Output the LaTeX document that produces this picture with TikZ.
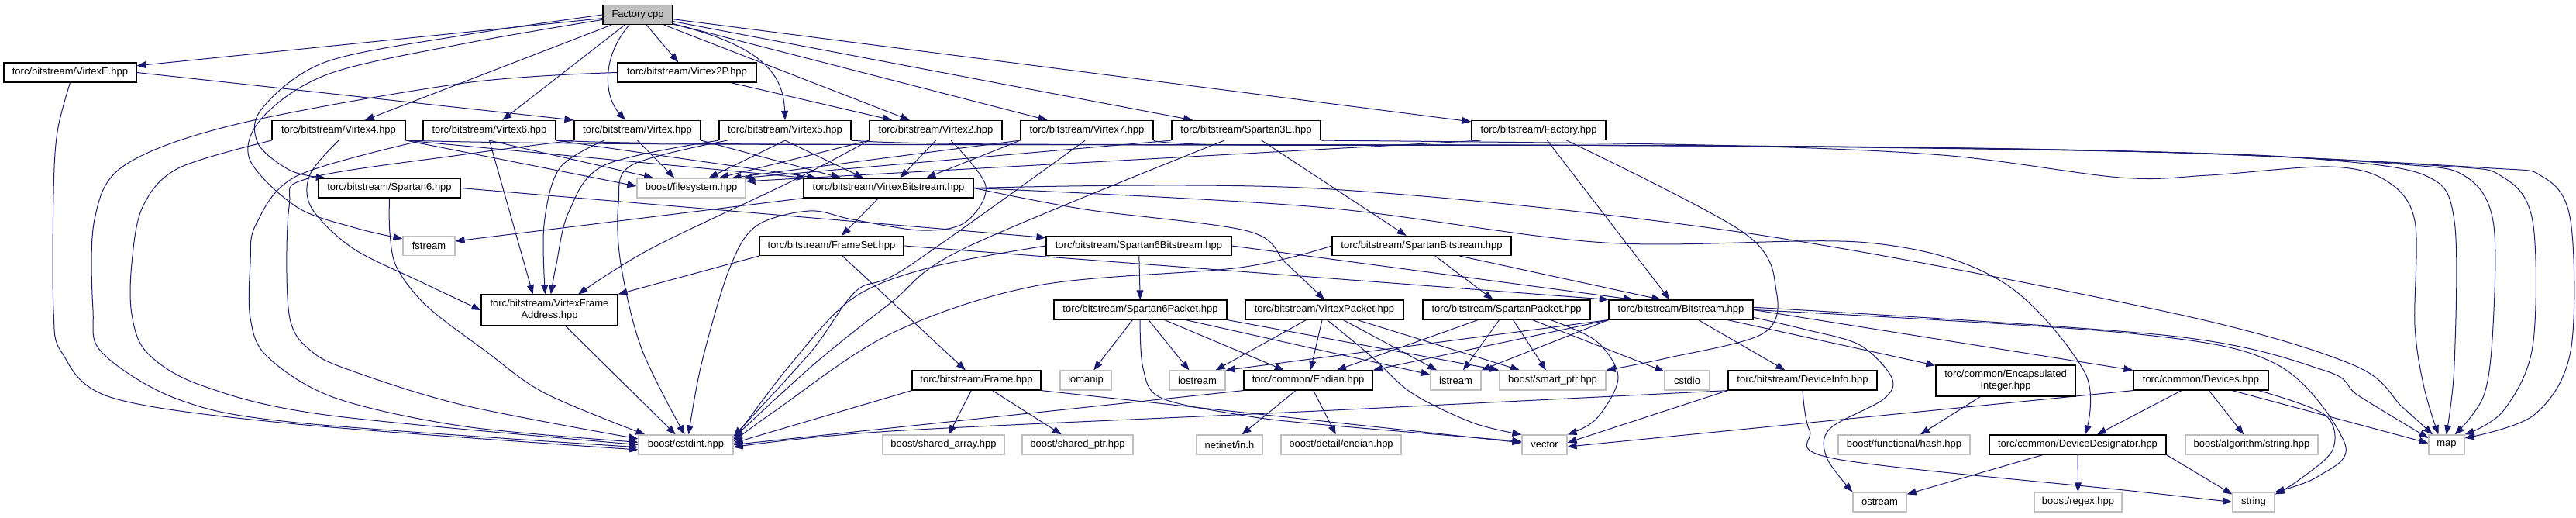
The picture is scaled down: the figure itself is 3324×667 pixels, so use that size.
\documentclass[tikz,border=0pt]{standalone}
\usepackage{fontspec}
\setmainfont{Liberation Sans}
\usetikzlibrary{arrows.meta}
\usepackage{xcolor}
\definecolor{navy}{HTML}{191970}
\definecolor{sysgray}{HTML}{BFBFBF}
\definecolor{rootfill}{HTML}{BFBFBF}
\pgfdeclarelayer{back}
\pgfsetlayers{back,main}
\newcommand{\gfont}{\fontsize{13}{15}\selectfont}

\begin{document}
\begin{tikzpicture}[
    x=1pt, y=-1pt,
    hdr/.style={draw=black, line width=1.2pt, fill=white, minimum height=25pt, inner sep=0pt, align=center, font=\gfont},
    sys/.style={hdr, draw=sysgray},
    root/.style={hdr, fill=rootfill},
    dep/.style={draw=navy, line width=1pt, -{Triangle[length=12pt,width=9pt]}},
    route/.style={dep, smooth, tension=0.55},
]
\useasboundingbox (0,0) rectangle (3324,667);

% Source file
\node[root, minimum width=90pt] (factorycpp) at (823,19) {Factory.cpp};

% Device headers
\node[hdr, minimum width=171pt] (virtexE) at (90.5,93.5) {torc/bitstream/VirtexE.hpp};
\node[hdr, minimum width=179pt] (virtex2P) at (886.5,93.5) {torc/bitstream/Virtex2P.hpp};
\node[hdr, minimum width=172pt] (virtex4) at (437,168) {torc/bitstream/Virtex4.hpp};
\node[hdr, minimum width=171pt] (virtex6) at (631.5,168) {torc/bitstream/Virtex6.hpp};
\node[hdr, minimum width=163pt] (virtex) at (822.5,168) {torc/bitstream/Virtex.hpp};
\node[hdr, minimum width=170pt] (virtex5) at (1013,168) {torc/bitstream/Virtex5.hpp};
\node[hdr, minimum width=171pt] (virtex2) at (1207.5,168) {torc/bitstream/Virtex2.hpp};
\node[hdr, minimum width=171pt] (virtex7) at (1402.5,168) {torc/bitstream/Virtex7.hpp};
\node[hdr, minimum width=192pt] (spartan3E) at (1608,168) {torc/bitstream/Spartan3E.hpp};
\node[hdr, minimum width=173pt] (factoryhpp) at (1985.5,168) {torc/bitstream/Factory.hpp};

% Bitstream layer
\node[hdr, minimum width=183pt] (spartan6) at (502.5,242.5) {torc/bitstream/Spartan6.hpp};
\node[sys, minimum width=140pt] (filesystem) at (892,242.5) {boost/filesystem.hpp};
\node[hdr, minimum width=219pt] (virtexBit) at (1146.5,242.5) {torc/bitstream/VirtexBitstream.hpp};
\node[sys, minimum width=67pt] (fstream) at (553.5,317) {fstream};
\node[hdr, minimum width=186pt] (frameSet) at (1073,317) {torc/bitstream/FrameSet.hpp};
\node[hdr, minimum width=239pt] (spartan6Bit) at (1469.5,317) {torc/bitstream/Spartan6Bitstream.hpp};
\node[hdr, minimum width=231pt] (spartanBit) at (1834.5,317) {torc/bitstream/SpartanBitstream.hpp};

% Packets
\node[hdr, minimum width=176pt, minimum height=40pt] (vfa) at (709,400) {torc/bitstream/VirtexFrame\\Address.hpp};
\node[hdr, minimum width=223pt] (spartan6Pkt) at (1471.5,399.5) {torc/bitstream/Spartan6Packet.hpp};
\node[hdr, minimum width=204pt] (virtexPkt) at (1709,399.5) {torc/bitstream/VirtexPacket.hpp};
\node[hdr, minimum width=216pt] (spartanPkt) at (1944,399.5) {torc/bitstream/SpartanPacket.hpp};
\node[hdr, minimum width=186pt] (bitstream) at (2169,399.5) {torc/bitstream/Bitstream.hpp};

% Common headers
\node[hdr, minimum width=166pt] (frame) at (1260,490.5) {torc/bitstream/Frame.hpp};
\node[sys, minimum width=66pt] (iomanip) at (1401,490.5) {iomanip};
\node[sys, minimum width=72pt] (iostream) at (1545,490.5) {iostream};
\node[hdr, minimum width=166pt] (endian) at (1688,490.5) {torc/common/Endian.hpp};
\node[sys, minimum width=65pt] (istream) at (1878.5,490.5) {istream};
\node[sys, minimum width=137pt] (smartptr) at (2003.5,490.5) {boost/smart\_ptr.hpp};
\node[sys, minimum width=58pt] (cstdio) at (2177,490.5) {cstdio};
\node[hdr, minimum width=192pt] (deviceInfo) at (2326,490.5) {torc/bitstream/DeviceInfo.hpp};
\node[hdr, minimum width=180pt, minimum height=40pt] (encInt) at (2588,491) {torc/common/Encapsulated\\Integer.hpp};
\node[hdr, minimum width=174pt] (devices) at (2840,490.5) {torc/common/Devices.hpp};

% System headers
\node[sys, minimum width=122pt] (cstdint) at (885,573.5) {boost/cstdint.hpp};
\node[sys, minimum width=157pt] (sharedArray) at (1217.5,573.5) {boost/shared\_array.hpp};
\node[sys, minimum width=143pt] (sharedPtr) at (1390.5,573.5) {boost/shared\_ptr.hpp};
\node[sys, minimum width=85pt] (netinet) at (1586.5,573.5) {netinet/in.h};
\node[sys, minimum width=155pt] (detailEndian) at (1730.5,573.5) {boost/detail/endian.hpp};
\node[sys, minimum width=58pt] (vector) at (1993,573.5) {vector};
\node[sys, minimum width=170pt] (hash) at (2457,573.5) {boost/functional/hash.hpp};
\node[hdr, minimum width=228pt] (devDesig) at (2681,573.5) {torc/common/DeviceDesignator.hpp};
\node[sys, minimum width=171pt] (algString) at (2905.5,573.5) {boost/algorithm/string.hpp};
\node[sys, minimum width=46pt] (map) at (3157,573.5) {map};
\node[sys, minimum width=69pt] (ostream) at (2425.5,647.5) {ostream};
\node[sys, minimum width=113pt] (regex) at (2681.5,647.5) {boost/regex.hpp};
\node[sys, minimum width=54pt] (string) at (2908,647.5) {string};

\begin{pgfonlayer}{back}
% Factory.cpp includes
\draw[dep] (factorycpp) -- (virtexE);
\draw[dep] (factorycpp) -- (virtex2P);
\draw[dep] (factorycpp) -- (virtex4);
\draw[dep] (factorycpp) -- (virtex6);
\draw[dep] (factorycpp.-130) .. controls (775,75) and (780,125) .. (virtex.140);
\draw[dep] (factorycpp.-15) .. controls (990,60) and (1011,100) .. (virtex5.north);
\draw[dep] (factorycpp) -- (virtex2);
\draw[dep] (factorycpp) -- (virtex7);
\draw[dep] (factorycpp) -- (spartan3E);
\draw[dep] (factorycpp) -- (factoryhpp);
\draw[route] plot coordinates {(factorycpp.west) (600,45) (420,80) (338,140) (333,185) (375,220) (spartan6.171)};
\draw[route] plot coordinates {(factorycpp.188) (600,56) (425,95) (340,150) (322,205) (383,267) (459,294) (fstream.165)};

% VirtexE and Virtex2P
\draw[dep] (virtexE.east) -- (virtex.north west);
\draw[route] plot coordinates {(virtexE.south) (74,170) (69,250) (69,400) (80,455) (145,513) (383,547) (cstdint.186)};
\draw[dep] (virtex2P) -- (virtex2);
\draw[route] plot coordinates {(virtex2P.west) (600,107) (306,160) (161,213) (122,283) (120,400) (132,455) (230,515) (383,545) (cstdint.183)};

% Virtex4
\draw[dep] (virtex4.south east) -- (virtexBit.173);
\draw[dep] (virtex4.south east) -- (filesystem.178);
\draw[route] plot coordinates {(virtex4.south) (400,225) (402,268) (455,320) (540,362) (vfa.west)};
\draw[route] plot coordinates {(virtex4.south west) (230,217) (184,267) (170,340) (170,405) (190,455) (260,497) (420,535) (cstdint.180)};
\draw[route] plot coordinates {(virtex4.south east) (900,186) (2200,188) (2780,196) (3200,216) (3281,228) (3317,285) (3317,453) (3270,535) (map.20)};

% Virtex6
\draw[dep] (virtex6.south east) -- (virtexBit.172);
\draw[dep] (virtex6.south) -- (filesystem.165);
\draw[dep] (virtex6.south) -- (vfa.136);
\draw[route] plot coordinates {(virtex6.south west) (383,227) (330,290) (323,340) (323,410) (345,460) (432,513) (600,550) (cstdint.177)};
\draw[route] plot coordinates {(virtex6.south east) (1000,186) (2200,188) (2780,196) (3150,214) (3229,228) (3268,285) (3268,447) (3230,530) (map.north east)};

% Virtex
\draw[dep] (virtex.south east) -- (virtexBit.168);
\draw[dep] (virtex.south) -- (filesystem.149);
\draw[route] plot coordinates {(virtex.197) (722,217) (702,290) (vfa.105)};
\draw[route] plot coordinates {(virtex.south west) (600,199) (398,230) (373,267) (373,405) (402,453) (459,480) (600,523) (cstdint.173)};

% Virtex5
\draw[dep] (virtex5.south) -- (virtexBit.158);
\draw[dep] (virtex5.south) -- (filesystem.30);
\draw[route] plot coordinates {(virtex5.south west) (780,213) (734,273) (718,340) (vfa.85)};
\draw[route] plot coordinates {(virtex5.190) (815,213) (798,262) (801,340) (828,450) (cstdint.97)};
\draw[route] plot coordinates {(virtex5.south east) (1300,186) (2200,188) (2780,196) (3100,212) (3182,228) (3217,285) (3217,420) (3205,510) (map.51)};

% Virtex2
\draw[dep] (virtex2.south) -- (virtexBit.41);
\draw[dep] (virtex2.south west) -- (filesystem.20);
\draw[route] plot coordinates {(virtex2.south west) (1021,234) (841,320) (vfa.29)};
\draw[route] plot coordinates {(virtex2.-34) (1272,240) (1245,287) (1188,297) (1100,283) (1044,272) (975,292) (940,350) (905,470) (cstdint.75)};

% Virtex7
\draw[dep] (virtex7.south west) -- (virtexBit.15);
\draw[dep] (virtex7.south west) -- (filesystem.14);
\draw[route] plot coordinates {(virtex7.-100) (1170,345) (1105,375) (1047,453) (cstdint.10)};
\draw[route] plot coordinates {(virtex7.south east) (1600,187) (2200,188) (2780,196) (3000,206) (3131,227) (3167,285) (3167,470) (map.92)};

% Spartan3E
\draw[dep] (spartan3E) -- (spartanBit);
\draw[dep] (spartan3E.south west) -- (filesystem.11);
\draw[route] plot coordinates {(spartan3E.-155) (1245,320) (1150,390) (1050,470) (cstdint.8)};
\draw[route] plot coordinates {(spartan3E.south east) (2200,187) (2506,200) (2736,229) (2850,226) (3006,215) (3079,233) (3116,285) (3116,420) (3128,500) (map.129)};

% Factory.hpp
\draw[dep] (factoryhpp.-50) -- (bitstream.138);
\draw[dep] (factoryhpp.190) -- (filesystem.7);
\draw[route] plot coordinates {(factoryhpp.-20) (2250,300) (2292,375) (2275,430) (2150,462) (smartptr.north east)};

% Spartan6
\draw[dep] (spartan6.east) -- (spartan6Bit.175);
\draw[route] plot coordinates {(spartan6.south) (503,300) (512,345) (551,395) (627,453) (703,507) (cstdint.166)};

% VirtexBitstream
\draw[dep] (virtexBit) -- (frameSet);
\draw[dep] (virtexBit.south west) -- (fstream.10);
\draw[route] plot coordinates {(virtexBit.east) (1400,270) (1610,298) (1660,340) (virtexPkt.north)};
\draw[route] plot coordinates {(virtexBit.east) (1700,243) (2250,300) (2800,403) (3035,470) (3100,525) (map.144)};
\draw[route] plot coordinates {(virtexBit.east) (1700,267) (2071,313) (2410,313) (2583,363) (2690,480) (devDesig.54)};

% FrameSet
\draw[dep] (frameSet) -- (frame);
\draw[dep] (frameSet.south west) -- (vfa.north east);
\draw[dep] (frameSet.east) -- (bitstream.172);

% Spartan6Bitstream and SpartanBitstream
\draw[dep] (spartan6Bit) -- (spartan6Pkt);
\draw[dep] (spartan6Bit.east) -- (bitstream.168);
\draw[route] plot coordinates {(spartan6Bit.west) (1200,345) (1100,385) (1020,470) (cstdint.6)};
\draw[dep] (spartanBit) -- (spartanPkt);
\draw[dep] (spartanBit.-15) -- (bitstream.153);
\draw[route] plot coordinates {(spartanBit.west) (1600,345) (1340,368) (1150,430) (1000,530) (cstdint.4)};

% VirtexFrameAddress
\draw[dep] (vfa) -- (cstdint);

% Spartan6Packet
\draw[dep] (spartan6Pkt) -- (iomanip);
\draw[dep] (spartan6Pkt) -- (iostream);
\draw[dep] (spartan6Pkt) -- (endian);
\draw[dep] (spartan6Pkt) -- (istream);
\draw[dep] (spartan6Pkt.south east) -- (smartptr.north west);
\draw[route] plot coordinates {(spartan6Pkt.-92) (1475,475) (1498,513) (1600,535) (1700,547) (vector.172)};

% VirtexPacket
\draw[dep] (virtexPkt) -- (endian);
\draw[dep] (virtexPkt) -- (iostream);
\draw[dep] (virtexPkt) -- (istream);
\draw[dep] (virtexPkt) -- (smartptr);
\draw[route] plot coordinates {(virtexPkt.-75) (1770,460) (1822,507) (1900,545) (vector.north west)};

% SpartanPacket
\draw[dep] (spartanPkt) -- (endian);
\draw[dep] (spartanPkt) -- (istream);
\draw[dep] (spartanPkt) -- (smartptr);
\draw[dep] (spartanPkt) -- (cstdio);
\draw[route] plot coordinates {(spartanPkt.-13) (2060,440) (2088,487) (2060,540) (vector.north east)};

% Bitstream
\draw[dep] (bitstream.south west) -- (endian.north east);
\draw[dep] (bitstream.south west) -- (istream.north east);
\draw[dep] (bitstream.south west) -- (iostream.north east);
\draw[dep] (bitstream) -- (deviceInfo);
\draw[dep] (bitstream) -- (encInt);
\draw[dep] (bitstream.east) -- (devices.north west);
\draw[route] plot coordinates {(bitstream.-6) (2330,425) (2400,445) (2441,487) (2430,515) (2361,553) (2357,590) (ostream.north west)};
\draw[route] plot coordinates {(bitstream.2) (2800,433) (3000,478) (3043,510) (map.160)};
\draw[route] plot coordinates {(bitstream.0) (2750,430) (2938,470) (3026,573) (2990,615) (string.north east)};

% Endian and Frame
\draw[dep] (endian) -- (netinet);
\draw[dep] (endian) -- (detailEndian);
\draw[dep] (endian.south west) -- (cstdint.0);
\draw[dep] (frame) -- (sharedArray);
\draw[dep] (frame) -- (sharedPtr);
\draw[dep] (frame.south east) -- (vector.175);
\draw[dep] (frame.south west) -- (cstdint.2);

% DeviceInfo and EncapsulatedInteger
\draw[route] plot coordinates {(deviceInfo.south west) (1700,530) (1150,556) (cstdint.-3)};
\draw[dep] (deviceInfo.south west) -- (vector.5);
\draw[route] plot coordinates {(deviceInfo.south) (2335,555) (2370,592) (2750,633) (string.180)};
\draw[dep] (encInt) -- (hash);

% Devices and DeviceDesignator
\draw[dep] (devices) -- (devDesig);
\draw[dep] (devices) -- (algString);
\draw[dep] (devices.south west) -- (vector.-5);
\draw[dep] (devices.-18) -- (map.175);
\draw[route] plot coordinates {(devices.-10) (3000,535) (3010,580) (2965,620) (string.20)};
\draw[dep] (devDesig) -- (regex);
\draw[dep] (devDesig) -- (ostream);
\draw[dep] (devDesig.south east) -- (string.160);
\end{pgfonlayer}

\end{tikzpicture}
\end{document}
